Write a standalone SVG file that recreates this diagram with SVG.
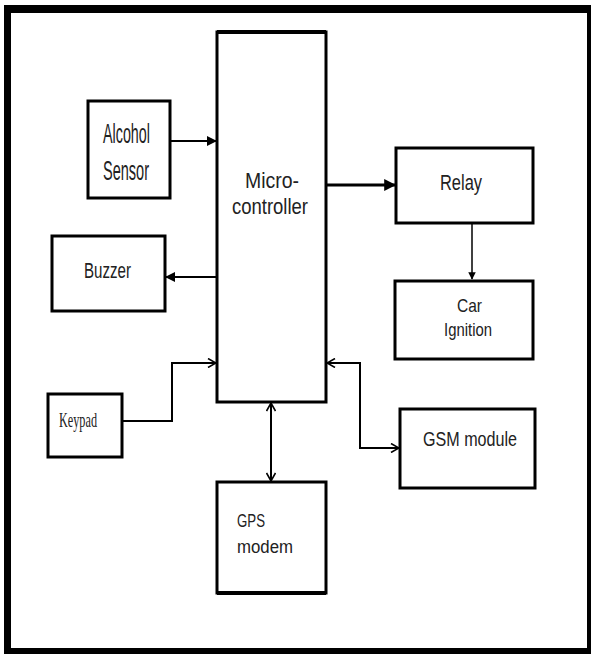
<svg xmlns="http://www.w3.org/2000/svg" width="591" height="654" viewBox="0 0 591 654">
<style>
.box{fill:#fff;stroke:#000;stroke-width:3}
.ln{fill:none;stroke:#000;stroke-width:2}
.t{font-family:"Liberation Sans",Arial,sans-serif;fill:#222}
.ts{font-family:"Liberation Serif","Times New Roman",serif;fill:#222}
</style>
<defs>
<marker id="fa" viewBox="0 0 10 10" refX="9" refY="5" markerWidth="5" markerHeight="5" orient="auto-start-reverse" markerUnits="strokeWidth">
<path d="M0,0 L10,5 L0,10 Z" fill="#000"/>
</marker>
<marker id="fa2" viewBox="0 0 10 10" refX="9" refY="5" markerWidth="4" markerHeight="4" orient="auto-start-reverse" markerUnits="strokeWidth">
<path d="M0,0 L10,5 L0,10 Z" fill="#000"/>
</marker>
<marker id="oa" viewBox="0 0 10 10" refX="9" refY="5" markerWidth="5" markerHeight="5" orient="auto-start-reverse" markerUnits="strokeWidth">
<path d="M1,0.5 L9,5 L1,9.5" fill="none" stroke="#000" stroke-width="1.6"/>
</marker>
</defs>
<rect width="591" height="654" fill="#fff"/>
<path d="M4,5 H591 V654 H4 Z M11,13 V648 H587 V13 Z" fill="#000" fill-rule="evenodd"/>
<g id="connectors">
<line class="ln" x1="170" y1="141" x2="216" y2="141" marker-end="url(#fa)"/>
<line class="ln" x1="217" y1="277" x2="166" y2="277" marker-end="url(#fa)"/>
<line class="ln" x1="326" y1="185" x2="395" y2="185" style="stroke-width:3" marker-end="url(#fa2)"/>
<line class="ln" x1="472" y1="223" x2="472" y2="279" style="stroke-width:1.5" marker-end="url(#fa)"/>
<polyline class="ln" points="122,421 172,421 172,363 216,363" marker-end="url(#oa)"/>
<polyline class="ln" points="327,363 360,363 360,448 399,448" marker-start="url(#oa)" marker-end="url(#oa)"/>
<line class="ln" x1="271" y1="403" x2="271" y2="481" marker-start="url(#oa)" marker-end="url(#oa)"/>
</g>
<g id="microcontroller">
<rect class="box" x="217" y="32" width="109" height="370"/>
<line x1="217" y1="32" x2="326" y2="32" stroke="#000" stroke-width="4"/>
<text class="t" x="245" y="188" font-size="22" fill="#333" textLength="54" lengthAdjust="spacingAndGlyphs">Micro-</text>
<text class="t" x="232" y="214" font-size="22" fill="#333" textLength="76" lengthAdjust="spacingAndGlyphs">controller</text>
</g>
<g id="alcohol-sensor">
<rect class="box" x="88" y="101" width="82" height="97"/>
<text class="t" x="103" y="143" font-size="27" textLength="47" lengthAdjust="spacingAndGlyphs">Alcohol</text>
<text class="t" x="103" y="180" font-size="27" textLength="46" lengthAdjust="spacingAndGlyphs">Sensor</text>
</g>
<g id="buzzer">
<rect class="box" x="52" y="236" width="113" height="75"/>
<text class="t" x="84" y="278" font-size="22" textLength="47" lengthAdjust="spacingAndGlyphs">Buzzer</text>
</g>
<g id="keypad">
<rect class="box" x="48" y="394" width="74" height="63"/>
<text class="ts" x="59" y="427" font-size="22" textLength="38" lengthAdjust="spacingAndGlyphs">Keypad</text>
</g>
<g id="relay">
<rect class="box" x="396" y="148" width="137" height="75"/>
<text class="t" x="440" y="190" font-size="22" textLength="42" lengthAdjust="spacingAndGlyphs">Relay</text>
</g>
<g id="car-ignition">
<rect class="box" x="395" y="281" width="138" height="78"/>
<text class="t" x="457" y="312" font-size="19" textLength="25" lengthAdjust="spacingAndGlyphs">Car</text>
<text class="t" x="444" y="336" font-size="19" textLength="48" lengthAdjust="spacingAndGlyphs">Ignition</text>
</g>
<g id="gsm-module">
<rect class="box" x="400" y="409" width="135" height="79"/>
<text class="t" x="423" y="446" font-size="20" textLength="94" lengthAdjust="spacingAndGlyphs">GSM module</text>
</g>
<g id="gps-modem">
<rect class="box" x="217" y="482" width="109" height="111"/>
<line x1="217" y1="593" x2="326" y2="593" stroke="#000" stroke-width="4"/>
<text class="t" x="237" y="527" font-size="18" textLength="28" lengthAdjust="spacingAndGlyphs">GPS</text>
<text class="t" x="237" y="553" font-size="18" textLength="56" lengthAdjust="spacingAndGlyphs">modem</text>
</g>
</svg>
